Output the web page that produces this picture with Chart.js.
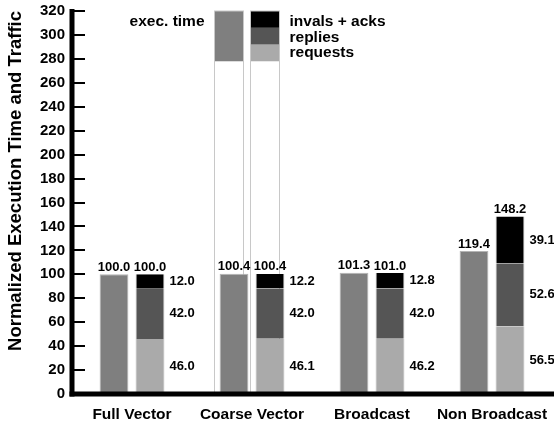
<!DOCTYPE html>
<html>
<head>
<meta charset="utf-8">
<script src="https://cdn.jsdelivr.net/npm/chart.js@4/dist/chart.umd.min.js"></script>
<style>
  html, body { margin: 0; padding: 0; background: #fff; }
  #wrap { width: 554px; height: 425px; }
</style>
</head>
<body>
<div id="wrap"><canvas id="c" width="554" height="425"></canvas></div>
<script>
// ---- data ----
const categories = ['Full Vector', 'Coarse Vector', 'Broadcast', 'Non Broadcast'];
const execTime   = [100.0, 100.4, 101.3, 119.4];
const requests   = [46.0, 46.1, 46.2, 56.5];
const replies    = [42.0, 42.0, 42.0, 52.6];
const invalsAcks = [12.0, 12.2, 12.8, 39.1];
const trafficTotal = [100.0, 100.4, 101.0, 148.2];
const yTicks = { min: 0, max: 320, step: 20 };
const legendLabels = { exec: 'exec. time', traffic: ['invals + acks', 'replies', 'requests'] };

const FONT = '"Liberation Sans", Arial, Helvetica, sans-serif';
const C_EXEC = '#7f7f7f', C_REQ = '#aaaaaa', C_REP = '#555555', C_INV = '#000000';
const EDGE = '#b4b4b4';

const fmt = v => v.toFixed(1);

// legend drawn inside the plot at the "Coarse Vector" group
const legendPlugin = {
  id: 'inplotLegend',
  beforeDatasetsDraw(chart) {
    const { ctx, scales: { y } } = chart;
    const eBar = chart.getDatasetMeta(0).data[1];
    const tBar = chart.getDatasetMeta(1).data[1];
    const shift = -6;
    const y0 = y.getPixelForValue(0), yTop = y.getPixelForValue(320);
    const y278 = y.getPixelForValue(278), y292 = y.getPixelForValue(292), y306 = y.getPixelForValue(306);
    ctx.save();
    const col = (bar, parts) => {
      const l = Math.round(bar.x - bar.width / 2 + shift) + 0.5;
      const w = Math.round(bar.width);
      ctx.fillStyle = '#fff';
      ctx.fillRect(l, yTop, w, y0 - yTop);
      parts.forEach(([a, b, c]) => { ctx.fillStyle = c; ctx.fillRect(l, b, w, a - b); });
      ctx.strokeStyle = '#c8c8c8'; ctx.lineWidth = 1;
      ctx.strokeRect(l, yTop, w, y0 - yTop);
      return [l, w];
    };
    const [el] = col(eBar, [[y278, yTop, C_EXEC]]);
    const [tl, tw] = col(tBar, [[y278, y292, C_REQ], [y292, y306, C_REP], [y306, yTop, C_INV]]);
    ctx.fillStyle = '#000';
    ctx.font = 'bold 15.5px ' + FONT;
    ctx.textBaseline = 'alphabetic';
    const base = (yTop + y306) / 2 + 7;
    ctx.textAlign = 'right';
    ctx.fillText(legendLabels.exec, el - 10, base);
    ctx.textAlign = 'left';
    legendLabels.traffic.forEach((t, i) => ctx.fillText(t, tl + tw + 10, base + i * 15.5));
    ctx.restore();
  }
};

// axis lines, inward tick marks on the y axis, value labels
const annotPlugin = {
  id: 'annot',
  afterDatasetsDraw(chart) {
    const { ctx, scales: { x, y } } = chart;
    ctx.save();
    ctx.strokeStyle = '#000';
    // axis lines
    ctx.lineWidth = 5;
    const ax = y.right, ay = y.getPixelForValue(0);
    ctx.beginPath(); ctx.moveTo(ax, y.getPixelForValue(320) - 2); ctx.lineTo(ax, ay + 2.5); ctx.stroke();
    ctx.beginPath(); ctx.moveTo(ax - 2.5, ay); ctx.lineTo(chart.width, ay); ctx.stroke();
    // tick marks
    ctx.lineWidth = 2;
    y.ticks.forEach(t => {
      const py = Math.round(y.getPixelForValue(t.value));
      ctx.beginPath(); ctx.moveTo(ax, py); ctx.lineTo(ax + 13, py); ctx.stroke();
    });
    ctx.fillStyle = '#000';
    ctx.font = 'bold 13px ' + FONT;
    const eMeta = chart.getDatasetMeta(0);
    const segMetas = [chart.getDatasetMeta(1), chart.getDatasetMeta(2), chart.getDatasetMeta(3)];
    const segVals = [requests, replies, invalsAcks];
    categories.forEach((c, i) => {
      const eb = eMeta.data[i];
      ctx.textAlign = 'center'; ctx.textBaseline = 'alphabetic';
      ctx.fillText(fmt(execTime[i]), eb.x, eb.y - 3.5);
      const top = segMetas[2].data[i];
      ctx.fillText(fmt(trafficTotal[i]), top.x, top.y - 3.5);
      ctx.textAlign = 'left'; ctx.textBaseline = 'middle';
      segMetas.forEach((m, k) => {
        const b = m.data[i];
        ctx.fillText(fmt(segVals[k][i]), b.x + b.width / 2 + 5, (b.y + b.base) / 2);
      });
    });
    ctx.restore();
  }
};

const common = { categoryPercentage: 0.6, barPercentage: 0.8, borderColor: EDGE, borderSkipped: false };

new Chart(document.getElementById('c'), {
  type: 'bar',
  data: {
    labels: categories,
    datasets: [
      Object.assign({ label: 'exec. time', data: execTime, stack: 'exec', backgroundColor: C_EXEC,
        borderWidth: { top: 1, left: 1, right: 1, bottom: 0 } }, common),
      Object.assign({ label: 'requests', data: requests, stack: 'traffic', backgroundColor: C_REQ,
        borderWidth: { top: 0, left: 1, right: 1, bottom: 0 } }, common),
      Object.assign({ label: 'replies', data: replies, stack: 'traffic', backgroundColor: C_REP,
        borderWidth: { top: 0, left: 1, right: 1, bottom: 0 } }, common),
      Object.assign({ label: 'invals + acks', data: invalsAcks, stack: 'traffic', backgroundColor: C_INV,
        borderWidth: { top: 0, left: 1, right: 1, bottom: 0 } }, common)
    ]
  },
  options: {
    responsive: false,
    animation: false,
    events: [],
    layout: { padding: { top: 11, right: 2, left: 0, bottom: 0 } },
    plugins: { legend: { display: false }, tooltip: { enabled: false } },
    scales: {
      x: {
        stacked: true,
        grid: { display: false, drawTicks: false },
        border: { display: false },
        ticks: { color: '#000', font: { family: FONT, size: 15.5, weight: 'bold' }, padding: 11, maxRotation: 0 },
        afterFit(s) { s.height = 31; s.paddingLeft = 0; s.paddingRight = 0; }
      },
      y: {
        stacked: true,
        min: yTicks.min, max: yTicks.max,
        grid: { display: false, drawTicks: false },
        border: { display: false },
        ticks: { stepSize: yTicks.step, color: '#000', font: { family: FONT, size: 15, weight: 'bold' }, padding: 7 },
        title: { display: true, text: 'Normalized Execution Time and Traffic', align: 'end', color: '#000',
          font: { family: FONT, size: 18.5, weight: 'bold' }, padding: { top: 5, bottom: 0 } },
        afterFit(s) { s.width = 72; s.paddingTop = 0; s.paddingBottom = 0; }
      }
    }
  },
  plugins: [legendPlugin, annotPlugin]
});
</script>
</body>
</html>
